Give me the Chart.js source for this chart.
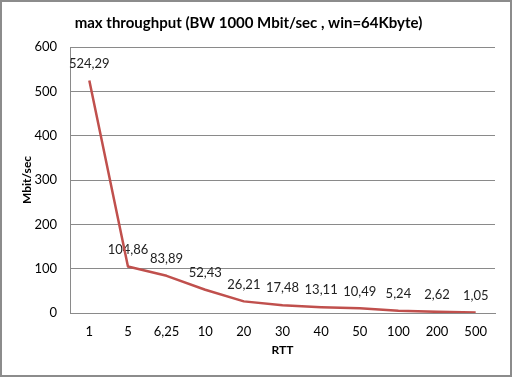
<!DOCTYPE html>
<html>
<head>
<meta charset="utf-8">
<script src="https://cdn.jsdelivr.net/npm/chart.js@4/dist/chart.umd.min.js"></script>
<style>
  html, body { margin: 0; padding: 0; background: #fff; }
  #frame { width: 508px; height: 373px; border: 2px solid #8c8c8c; }
  canvas { display: block; }
</style>
</head>
<body>
<div id="frame"><canvas id="chart" width="508" height="373"></canvas></div>
<script>
// RTT categories and the max throughput
const rttLabels = ['1', '5', '6,25', '10', '20', '30', '40', '50', '100', '200', '500'];
const throughput = [524.29, 104.86, 83.89, 52.43, 26.21, 17.48, 13.11, 10.49, 5.24, 2.62, 1.05];
const yTicks = [0, 100, 200, 300, 400, 500, 600];

const fontFamily = 'Lato, "Noto Sans", sans-serif';
const gridGrey = '#8a8a8a';

// small plugin to write the value above each point, comma decimals like the original
// drawn before the line so the line sits on top (as in the original)
const valueLabels = {
  id: 'valueLabels',
  beforeDatasetsDraw(chart) {
    const ctx = chart.ctx;
    const meta = chart.getDatasetMeta(0);
    ctx.save();
    ctx.font = '13px ' + fontFamily;
    ctx.fillStyle = '#222';
    ctx.textAlign = 'center';
    ctx.textBaseline = 'middle';
    meta.data.forEach((pt, i) => {
      const txt = throughput[i].toFixed(2).replace('.', ',');
      ctx.fillText(txt, pt.x, pt.y - 17);
    });
    ctx.restore();
  }
};

new Chart(document.getElementById('chart'), {
  type: 'line',
  data: {
    labels: rttLabels,
    datasets: [{
      data: throughput,
      borderColor: '#c0504d',
      borderWidth: 2.5,
      borderJoinStyle: 'round',
      pointRadius: 0,
      tension: 0,
      fill: false
    }]
  },
  options: {
    responsive: false,
    animation: false,
    layout: { padding: { left: 0, right: 15, top: 0, bottom: 0 } },
    plugins: {
      legend: { display: false },
      tooltip: { enabled: false },
      title: {
        display: true,
        text: 'max throughput (BW 1000 Mbit/sec , win=64Kbyte)',
        color: '#000',
        font: { family: fontFamily, size: 15, weight: 'bold', lineHeight: 1.2 },
        padding: { top: 12, bottom: 15 }
      }
    },
    scales: {
      x: {
        offset: true,
        grid: { display: false, drawTicks: false },
        border: { display: true, color: gridGrey, width: 1 },
        ticks: { color: '#000', font: { family: fontFamily, size: 13 }, padding: 11, maxRotation: 0, autoSkip: false },
        title: {
          display: true,
          text: 'RTT',
          color: '#000',
          font: { family: fontFamily, size: 12, weight: 'bold', lineHeight: 1.2 },
          padding: { top: 4, bottom: 18 }
        },
        afterFit(scale) { scale.height = 62; }
      },
      y: {
        min: 0,
        max: 600,
        afterBuildTicks(scale) { scale.ticks = yTicks.map(v => ({ value: v })); },
        grid: { color: gridGrey, lineWidth: 1, drawTicks: false },
        border: { display: true, color: gridGrey, width: 1 },
        ticks: { color: '#000', font: { family: fontFamily, size: 13 }, padding: 13 },
        title: {
          display: true,
          text: 'Mbit/sec',
          color: '#000',
          font: { family: fontFamily, size: 12, weight: 'bold', lineHeight: 1.2 },
          padding: { top: 18, bottom: 4 }
        },
        afterFit(scale) { scale.width = 68; }
      }
    }
  },
  plugins: [valueLabels]
});
</script>
</body>
</html>
